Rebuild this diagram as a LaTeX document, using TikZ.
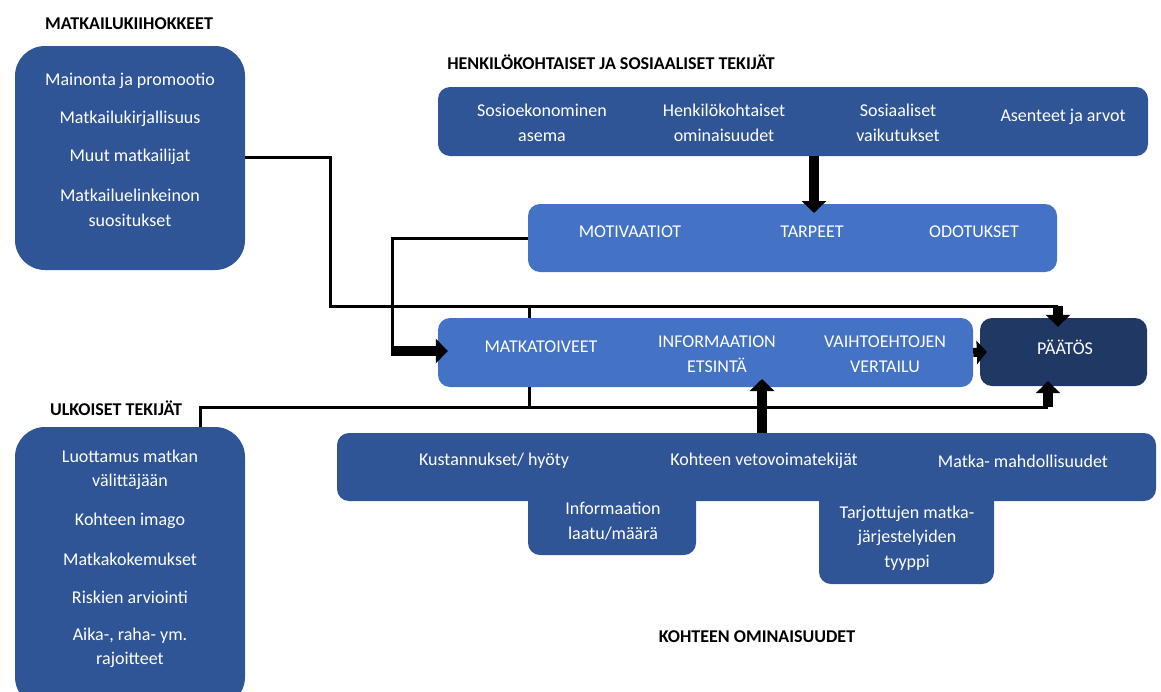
\documentclass[tikz,border=0pt]{standalone}
\usepackage{fontspec}
\setmainfont{Carlito}
\usetikzlibrary{arrows.meta,calc}
\definecolor{dkblue}{HTML}{2F5597}
\definecolor{ltblue}{HTML}{4472C4}
\definecolor{navyb}{HTML}{203864}
\begin{document}
\begin{tikzpicture}[x=1pt,y=-1pt,
  panel/.style={fill=#1, draw=none, rounded corners=12pt, inner sep=0pt},
  lbl/.style={text=white, font=\fontsize{18}{24.5}\selectfont, align=center, inner sep=0pt},
  ttl/.style={text=black, font=\fontsize{18}{22}\selectfont\bfseries, inner sep=0pt},
  conn/.style={line width=3pt, black},
  bigarrow/.style={line width=9.5pt, black, -{Triangle[width=24pt,length=12pt]}},
  smallarrow/.style={line width=9pt, black, -{Triangle[width=23pt,length=10pt]}},
]
\useasboundingbox (0,0) rectangle (1161,691);
\clip (0,0) rectangle (1161,691);

% titles
\node[ttl] (tstim) at (129,24) {MATKAILUKIIHOKKEET};
\node[ttl] (tpers) at (611,62) {HENKILÖKOHTAISET JA SOSIAALISET TEKIJÄT};
\node[ttl] (text)  at (116,408) {ULKOISET TEKIJÄT};
\node[ttl] (tdest) at (757,637) {KOHTEEN OMINAISUUDET};

% panels
\node[panel=dkblue, rounded corners=30pt, minimum width=230pt, minimum height=224pt] (stim) at (130,158) {};
\node[panel=dkblue, rounded corners=30pt, minimum width=230pt, minimum height=280pt] (ext) at (130,567) {};
\node[panel=dkblue, minimum width=710pt, minimum height=69pt] (pers) at (793,121.5) {};
\node[panel=ltblue, minimum width=529pt, minimum height=68pt] (mot) at (792.5,238) {};
\node[panel=ltblue, minimum width=535pt, minimum height=69pt] (proc) at (705.5,352.5) {};
\node[panel=navyb, minimum width=167pt, minimum height=68pt] (dec) at (1063.5,352) {};
\node[panel=dkblue, minimum width=168pt, minimum height=65pt] (dq) at (612,522.5) {};
\node[panel=dkblue, minimum width=175pt, minimum height=94pt] (dt) at (906.5,537) {};
\node[panel=dkblue, minimum width=819pt, minimum height=68pt] (dest) at (746.5,467) {};

% left panel 1 texts
\node[lbl] (s1) at (130,81) {Mainonta ja promootio};
\node[lbl] (s2) at (130,119) {Matkailukirjallisuus};
\node[lbl] (muut) at (130,157) {Muut matkailijat};
\node[lbl] (s4) at (130,208) {Matkailuelinkeinon\\suositukset};

% left panel 2 texts
\node[lbl] (e1t) at (130,470) {Luottamus matkan\\välittäjään};
\node[lbl] (e2t) at (130,521) {Kohteen imago};
\node[lbl] (e3t) at (130,559) {Matkakokemukset};
\node[lbl] (e4t) at (130,597) {Riskien arviointi};
\node[lbl] (e5t) at (130,648) {Aika-, raha- ym.\\rajoitteet};

% personal texts
\node[lbl] (p1) at (542,123) {Sosioekonominen\\asema};
\node[lbl] (p2) at (724,123) {Henkilökohtaiset\\ominaisuudet};
\node[lbl] (p3) at (898,123) {Sosiaaliset\\vaikutukset};
\node[lbl] (p4) at (1063,117) {Asenteet ja arvot};

% motivation texts
\node[lbl] (m1) at (630,232) {MOTIVAATIOT};
\node[lbl] (m2) at (812,232) {TARPEET};
\node[lbl] (m3) at (974,232) {ODOTUKSET};

% process texts
\node[lbl] (r1) at (541,347) {MATKATOIVEET};
\node[lbl] (r2) at (717,354) {INFORMAATION\\ETSINTÄ};
\node[lbl] (r3) at (885,354) {VAIHTOEHTOJEN\\VERTAILU};
\node[lbl] (r4) at (1065,347) {PÄÄTÖS};

% destination texts
\node[lbl] (d1) at (494,461) {Kustannukset/ hyöty};
\node[lbl] (d2) at (764,461) {Kohteen vetovoimatekijät};
\node[lbl] (d3) at (1023,461) {Matka- mahdollisuudet};
\node[lbl] (d4) at (613,521) {Informaation\\laatu/määrä};
\node[lbl] (d5) at (907,538) {Tarjottujen matka-\\järjestelyiden\\tyyppi};

% junction coordinates
\coordinate (j1) at (330,306);
\coordinate (tA) at (1058,306);
\coordinate (j2) at (392,351);
\coordinate (j2b) at (392,356);
\coordinate (tk1) at (529,306);
\coordinate (tk2) at (529,407);
\coordinate (e1) at (200,407);
\coordinate (tB) at (1048,407);
\coordinate (ka) at (762,379);
\coordinate (ta) at (814,213);

% connectors
\draw[conn] (stim.east |- muut) -| (j1) -- (tA);
\draw[conn] (mot.west) -| (j2b);
\draw[conn] (tk1) -- (tk1 |- proc.north);
\draw[conn] (tk2) -- (tk2 |- proc.south);
\draw[conn] (ext.north -| e1) -- (e1) -- (tB);

% thick arrows
\draw[bigarrow] (tA) -- ($(tA |- dec.north)+(0,9)$);
\draw[bigarrow] (tB) -- ($(tB |- dec.south)+(0,-5)$);
\draw[bigarrow] (j2) -- ($(proc.west |- j2)+(10,0)$);
\draw[bigarrow] (ka |- dest.north) -- (ka);
\draw[bigarrow] (ta |- pers.south) -- (ta);
\draw[smallarrow] (proc.east) -- ($(dec.west)+(7,0)$);
\end{tikzpicture}
\end{document}
